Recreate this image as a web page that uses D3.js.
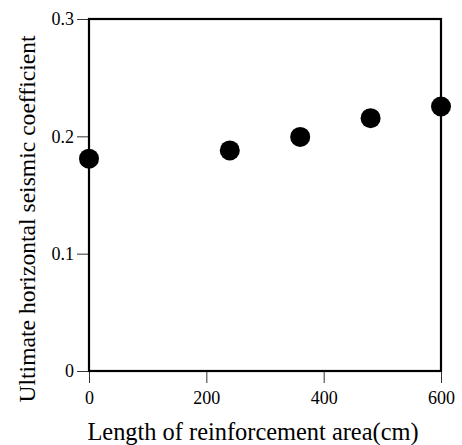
<!DOCTYPE html>
<html>
<head>
<meta charset="utf-8">
<script src="https://cdn.jsdelivr.net/npm/d3@7"></script>
<style>
  body { margin: 0; background: #fff; }
</style>
</head>
<body>
<div id="chart"></div>
<script>
// values
const lengths = [0, 240, 360, 480, 600];
const coefficients = [0.181, 0.188, 0.1995, 0.2155, 0.2254];
const xTicks = [0, 200, 400, 600];
const yTicks = [0, 0.1, 0.2, 0.3];

const serif = '"Liberation Serif", "Times New Roman", Times, serif';
const width = 462, height = 445;
const margin = {left: 89, right: 21, top: 19, bottom: 74};

const svg = d3.select('#chart').append('svg')
  .attr('width', width)
  .attr('height', height)
  .style('font-family', serif);

const x = d3.scaleLinear().domain([0, 600]).range([margin.left, width - margin.right]);
const y = d3.scaleLinear().domain([0, 0.3]).range([height - margin.bottom, margin.top]);

// axes (ticks outward, thin)
const xAxis = d3.axisBottom(x).tickValues(xTicks).tickSize(12).tickPadding(8)
  .tickFormat(d3.format('d'));
const yAxis = d3.axisLeft(y).tickValues(yTicks).tickSize(12).tickPadding(3)
  .tickFormat(d => d === 0 ? '0' : d3.format('.1f')(d));

const gx = svg.append('g')
  .attr('transform', 'translate(0,' + y(0) + ')')
  .call(xAxis);
const gy = svg.append('g')
  .attr('transform', 'translate(' + x(0) + ',0)')
  .call(yAxis);

[gx, gy].forEach(g => {
  g.attr('font-family', null).attr('font-size', null);
  g.select('.domain').remove();
  g.selectAll('.tick line').attr('stroke', '#333').attr('stroke-width', 1);
  g.selectAll('.tick text')
    .style('font-family', serif)
    .style('font-size', '18px');
});

// frame
svg.append('rect')
  .attr('x', x(0))
  .attr('y', y(0.3))
  .attr('width', x(600) - x(0))
  .attr('height', y(0) - y(0.3))
  .attr('fill', 'none')
  .attr('stroke', '#000')
  .attr('stroke-width', 2.2);

// points
svg.append('g').selectAll('circle')
  .data(lengths)
  .enter().append('circle')
  .attr('cx', d => x(d))
  .attr('cy', (d, i) => y(coefficients[i]))
  .attr('r', 10)
  .attr('fill', '#000');

// titles
svg.append('text')
  .attr('x', 253)
  .attr('y', 440)
  .attr('text-anchor', 'middle')
  .style('font-family', serif)
  .style('font-size', '24.4px')
  .text('Length of reinforcement area(cm)');

svg.append('text')
  .attr('transform', 'translate(35,219) rotate(-90)')
  .attr('text-anchor', 'middle')
  .style('font-family', serif)
  .style('font-size', '23.6px')
  .text('Ultimate horizontal seismic coefficient');
</script>
</body>
</html>
